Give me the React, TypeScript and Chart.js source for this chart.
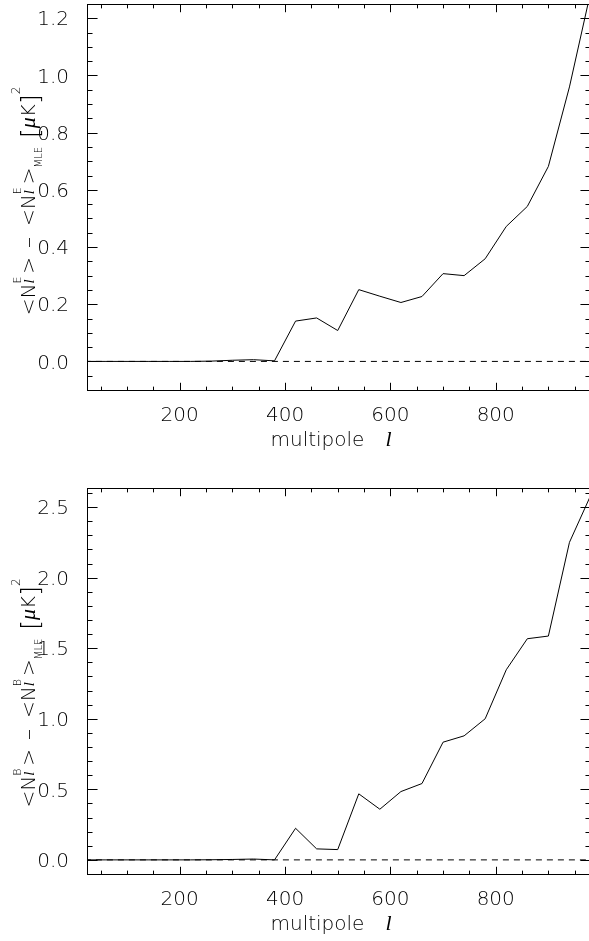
import React, { useEffect, useRef } from "react";
import { Chart, registerables } from "chart.js";

Chart.register(...registerables);

// ---- data ----
const multipoles = [20, 60, 100, 140, 180, 220, 260, 300, 340, 380, 420, 460, 500, 540, 580, 620, 660, 700, 740, 780, 820, 860, 900, 940, 980];
const noiseDiffE = [0, 0, 0, 0, 0, 0, 0.001, 0.004, 0.006, 0.002, 0.141, 0.152, 0.108, 0.251, 0.228, 0.206, 0.227, 0.307, 0.3, 0.359, 0.472, 0.542, 0.682, 0.96, 1.29];
const noiseDiffB = [0, 0, 0, 0, 0, 0, 0.001, 0.003, 0.006, 0.0, 0.224, 0.078, 0.073, 0.468, 0.359, 0.484, 0.541, 0.834, 0.879, 1.0, 1.347, 1.567, 1.586, 2.25, 2.58];
const zeroLineL = [20, 980];
const zeroLineV = [0, 0];

const xRange = [24, 979];
const xMajorTicks = [200, 400, 600, 800];
const xMinorStep = 50;

const yRangeE = [-0.1, 1.25];
const yTicksE = [0.0, 0.2, 0.4, 0.6, 0.8, 1.0, 1.2];
const yMinorStepE = 0.05;

const yRangeB = [-0.1, 2.635];
const yTicksB = [0.0, 0.5, 1.0, 1.5, 2.0, 2.5];
const yMinorStepB = 0.1;

const xTitleText = "multipole";
const xTitleSymbol = "l";

const SANS = "'DejaVu Sans', sans-serif";
const SERIF = "'Liberation Serif', serif";
const WEIGHT = "300";

type Part = { t: string; f: string; dy: number };
type Item = { parts?: Part[]; gap?: number };

function nBlock(mode: string): Item[] {
  return [
    { parts: [{ t: "<N", f: `${WEIGHT} 20px ${SANS}`, dy: 0 }] },
    {
      parts: [
        { t: mode, f: `${WEIGHT} 11px ${SANS}`, dy: -14 },
        { t: "l", f: `italic 15px ${SERIF}`, dy: -1 },
      ],
    },
    { gap: 3 },
    { parts: [{ t: ">", f: `${WEIGHT} 20px ${SANS}`, dy: 0 }] },
  ];
}

function yTitleItems(mode: string): Item[] {
  return [
    ...nBlock(mode),
    { gap: 9 },
    { parts: [{ t: "–", f: `${WEIGHT} 22px ${SANS}`, dy: 0 }] },
    { gap: 11 },
    ...nBlock(mode),
    { parts: [{ t: "MLE", f: `${WEIGHT} 10px ${SANS}`, dy: 7 }] },
    { gap: 9 },
    { parts: [{ t: "[", f: `${WEIGHT} 25px ${SANS}`, dy: 4 }] },
    { parts: [{ t: "μ", f: `italic 22px ${SERIF}`, dy: 0 }] },
    { parts: [{ t: "K", f: `${WEIGHT} 20px ${SANS}`, dy: 0 }] },
    { parts: [{ t: "]", f: `${WEIGHT} 25px ${SANS}`, dy: 4 }] },
    { parts: [{ t: "2", f: `${WEIGHT} 12px ${SANS}`, dy: -15 }] },
  ];
}

function itemWidth(ctx: CanvasRenderingContext2D, it: Item): number {
  if (it.gap !== undefined) return it.gap;
  let w = 0;
  for (const p of it.parts || []) {
    ctx.font = p.f;
    w = Math.max(w, ctx.measureText(p.t).width);
  }
  return w;
}

function drawVerticalRich(ctx: CanvasRenderingContext2D, items: Item[], baseX: number, cy: number) {
  const total = items.reduce((s, it) => s + itemWidth(ctx, it), 0);
  ctx.save();
  ctx.translate(baseX, cy);
  ctx.rotate(-Math.PI / 2);
  ctx.fillStyle = "#000";
  ctx.textBaseline = "alphabetic";
  ctx.textAlign = "left";
  let x = -total / 2;
  for (const it of items) {
    const w = itemWidth(ctx, it);
    if (it.parts) {
      for (const p of it.parts) {
        ctx.font = p.f;
        ctx.fillText(p.t, x, p.dy);
      }
    }
    x += w;
  }
  ctx.restore();
}

function stepValues(min: number, max: number, step: number): number[] {
  const out: number[] = [];
  for (let k = Math.ceil(min / step - 1e-9); k * step <= max + 1e-9; k++) out.push(+(k * step).toFixed(6));
  return out;
}

type PanelCfg = {
  values: number[];
  yRange: number[];
  yTicks: number[];
  yMinorStep: number;
  mode: string;
  padTop: number;
  xAxisHeight: number;
  titleCy: number;
};

function makeFramePlugin(cfg: PanelCfg) {
  return {
    id: "frameTicks",
    afterDraw(chart: any) {
      const { ctx, chartArea: a, scales } = chart;
      const xs = scales.x;
      const ys = scales.y;
      const L = Math.round(a.left) + 0.5;
      const R = Math.round(a.right) + 0.5;
      const T = Math.round(a.top) + 0.5;
      const B = Math.round(a.bottom) + 0.5;
      const h = B - T;
      const w = R - L;
      ctx.save();
      ctx.strokeStyle = "#000";
      ctx.lineWidth = 1;
      ctx.strokeRect(L, T, w, h);
      ctx.beginPath();
      for (const v of stepValues(xRange[0], xRange[1], xMinorStep)) {
        const major = xMajorTicks.some((m) => Math.abs(m - v) < 1e-6);
        const len = major ? 0.02 * h : 0.01 * h;
        const px = Math.round(xs.getPixelForValue(v)) + 0.5;
        ctx.moveTo(px, B);
        ctx.lineTo(px, B - len);
        ctx.moveTo(px, T);
        ctx.lineTo(px, T + len);
      }
      for (const v of stepValues(cfg.yRange[0], cfg.yRange[1], cfg.yMinorStep)) {
        const major = cfg.yTicks.some((m) => Math.abs(m - v) < 1e-6);
        const len = major ? 0.02 * w : 0.01 * w;
        const py = Math.round(ys.getPixelForValue(v)) + 0.5;
        ctx.moveTo(L, py);
        ctx.lineTo(L + len, py);
        ctx.moveTo(R, py);
        ctx.lineTo(R - len, py);
      }
      ctx.stroke();

      // x title
      ctx.fillStyle = "#000";
      ctx.textBaseline = "alphabetic";
      ctx.textAlign = "left";
      const baseY = Math.round(a.bottom) + 56;
      const startX = a.left + 183.5;
      ctx.font = `${WEIGHT} 20px ${SANS}`;
      ctx.fillText(xTitleText, startX, baseY);
      const tw = ctx.measureText(xTitleText).width;
      ctx.font = `italic 22px ${SERIF}`;
      ctx.fillText(xTitleSymbol, startX + tw + 21, baseY);

      // y title
      drawVerticalRich(ctx, yTitleItems(cfg.mode), 35, cfg.titleCy);
      ctx.restore();
    },
  };
}

function buildChart(canvas: HTMLCanvasElement, cfg: PanelCfg) {
  const pts = multipoles.map((l, i) => ({ x: l, y: cfg.values[i] }));
  const zero = zeroLineL.map((l, i) => ({ x: l, y: zeroLineV[i] }));
  return new Chart(canvas, {
    type: "line",
    data: {
      datasets: [
        {
          data: pts,
          borderColor: "#000",
          borderWidth: 1,
          pointRadius: 0,
          tension: 0,
          fill: false,
        },
        {
          data: zero,
          borderColor: "#000",
          borderWidth: 1,
          borderDash: [6, 5],
          pointRadius: 0,
          fill: false,
        },
      ],
    },
    options: {
      animation: false,
      responsive: false,
      devicePixelRatio: 1,
      events: [],
      layout: { padding: { left: 0, right: 10, top: cfg.padTop, bottom: 0 } },
      plugins: { legend: { display: false }, tooltip: { enabled: false }, title: { display: false } },
      scales: {
        x: {
          type: "linear",
          min: xRange[0],
          max: xRange[1],
          grid: { display: false, drawTicks: false },
          border: { display: false },
          afterBuildTicks: (s: any) => {
            s.ticks = xMajorTicks.map((v) => ({ value: v }));
          },
          afterFit: (s: any) => {
            s.height = cfg.xAxisHeight;
            s.paddingLeft = 0;
            s.paddingRight = 0;
            s.paddingTop = 0;
            s.paddingBottom = 0;
          },
          ticks: {
            color: "#000",
            font: { family: SANS, size: 20, weight: WEIGHT },
            padding: 14,
            maxRotation: 0,
            autoSkip: false,
            callback: (v: any) => String(v),
          },
        },
        y: {
          type: "linear",
          min: cfg.yRange[0],
          max: cfg.yRange[1],
          grid: { display: false, drawTicks: false },
          border: { display: false },
          afterBuildTicks: (s: any) => {
            s.ticks = cfg.yTicks.map((v) => ({ value: v }));
          },
          afterFit: (s: any) => {
            s.width = 87;
            s.paddingLeft = 0;
            s.paddingRight = 0;
            s.paddingTop = 0;
            s.paddingBottom = 0;
          },
          ticks: {
            color: "#000",
            font: { family: SANS, size: 20, weight: WEIGHT },
            padding: 18,
            labelOffset: 2,
            autoSkip: false,
            callback: (v: any) => Number(v).toFixed(1),
          },
        },
      },
    },
    plugins: [makeFramePlugin(cfg)],
  });
}

export default function App() {
  const topRef = useRef<HTMLCanvasElement>(null);
  const botRef = useRef<HTMLCanvasElement>(null);

  useEffect(() => {
    const c1 = buildChart(topRef.current!, {
      values: noiseDiffE,
      yRange: yRangeE,
      yTicks: yTicksE,
      yMinorStep: yMinorStepE,
      mode: "E",
      padTop: 4,
      xAxisHeight: 80,
      titleCy: 201,
    });
    const c2 = buildChart(botRef.current!, {
      values: noiseDiffB,
      yRange: yRangeB,
      yTicks: yTicksB,
      yMinorStep: yMinorStepB,
      mode: "B",
      padTop: 18,
      xAxisHeight: 67,
      titleCy: 223,
    });
    return () => {
      c1.destroy();
      c2.destroy();
    };
  }, []);

  return (
    <div
      style={{
        position: "fixed",
        left: 0,
        top: 0,
        width: 589,
        height: 941,
        overflow: "hidden",
        background: "#fff",
      }}
    >
      <canvas ref={topRef} width={600} height={470} style={{ position: "absolute", left: 0, top: 0, width: 600, height: 470 }} />
      <canvas ref={botRef} width={600} height={471} style={{ position: "absolute", left: 0, top: 470, width: 600, height: 471 }} />
    </div>
  );
}
